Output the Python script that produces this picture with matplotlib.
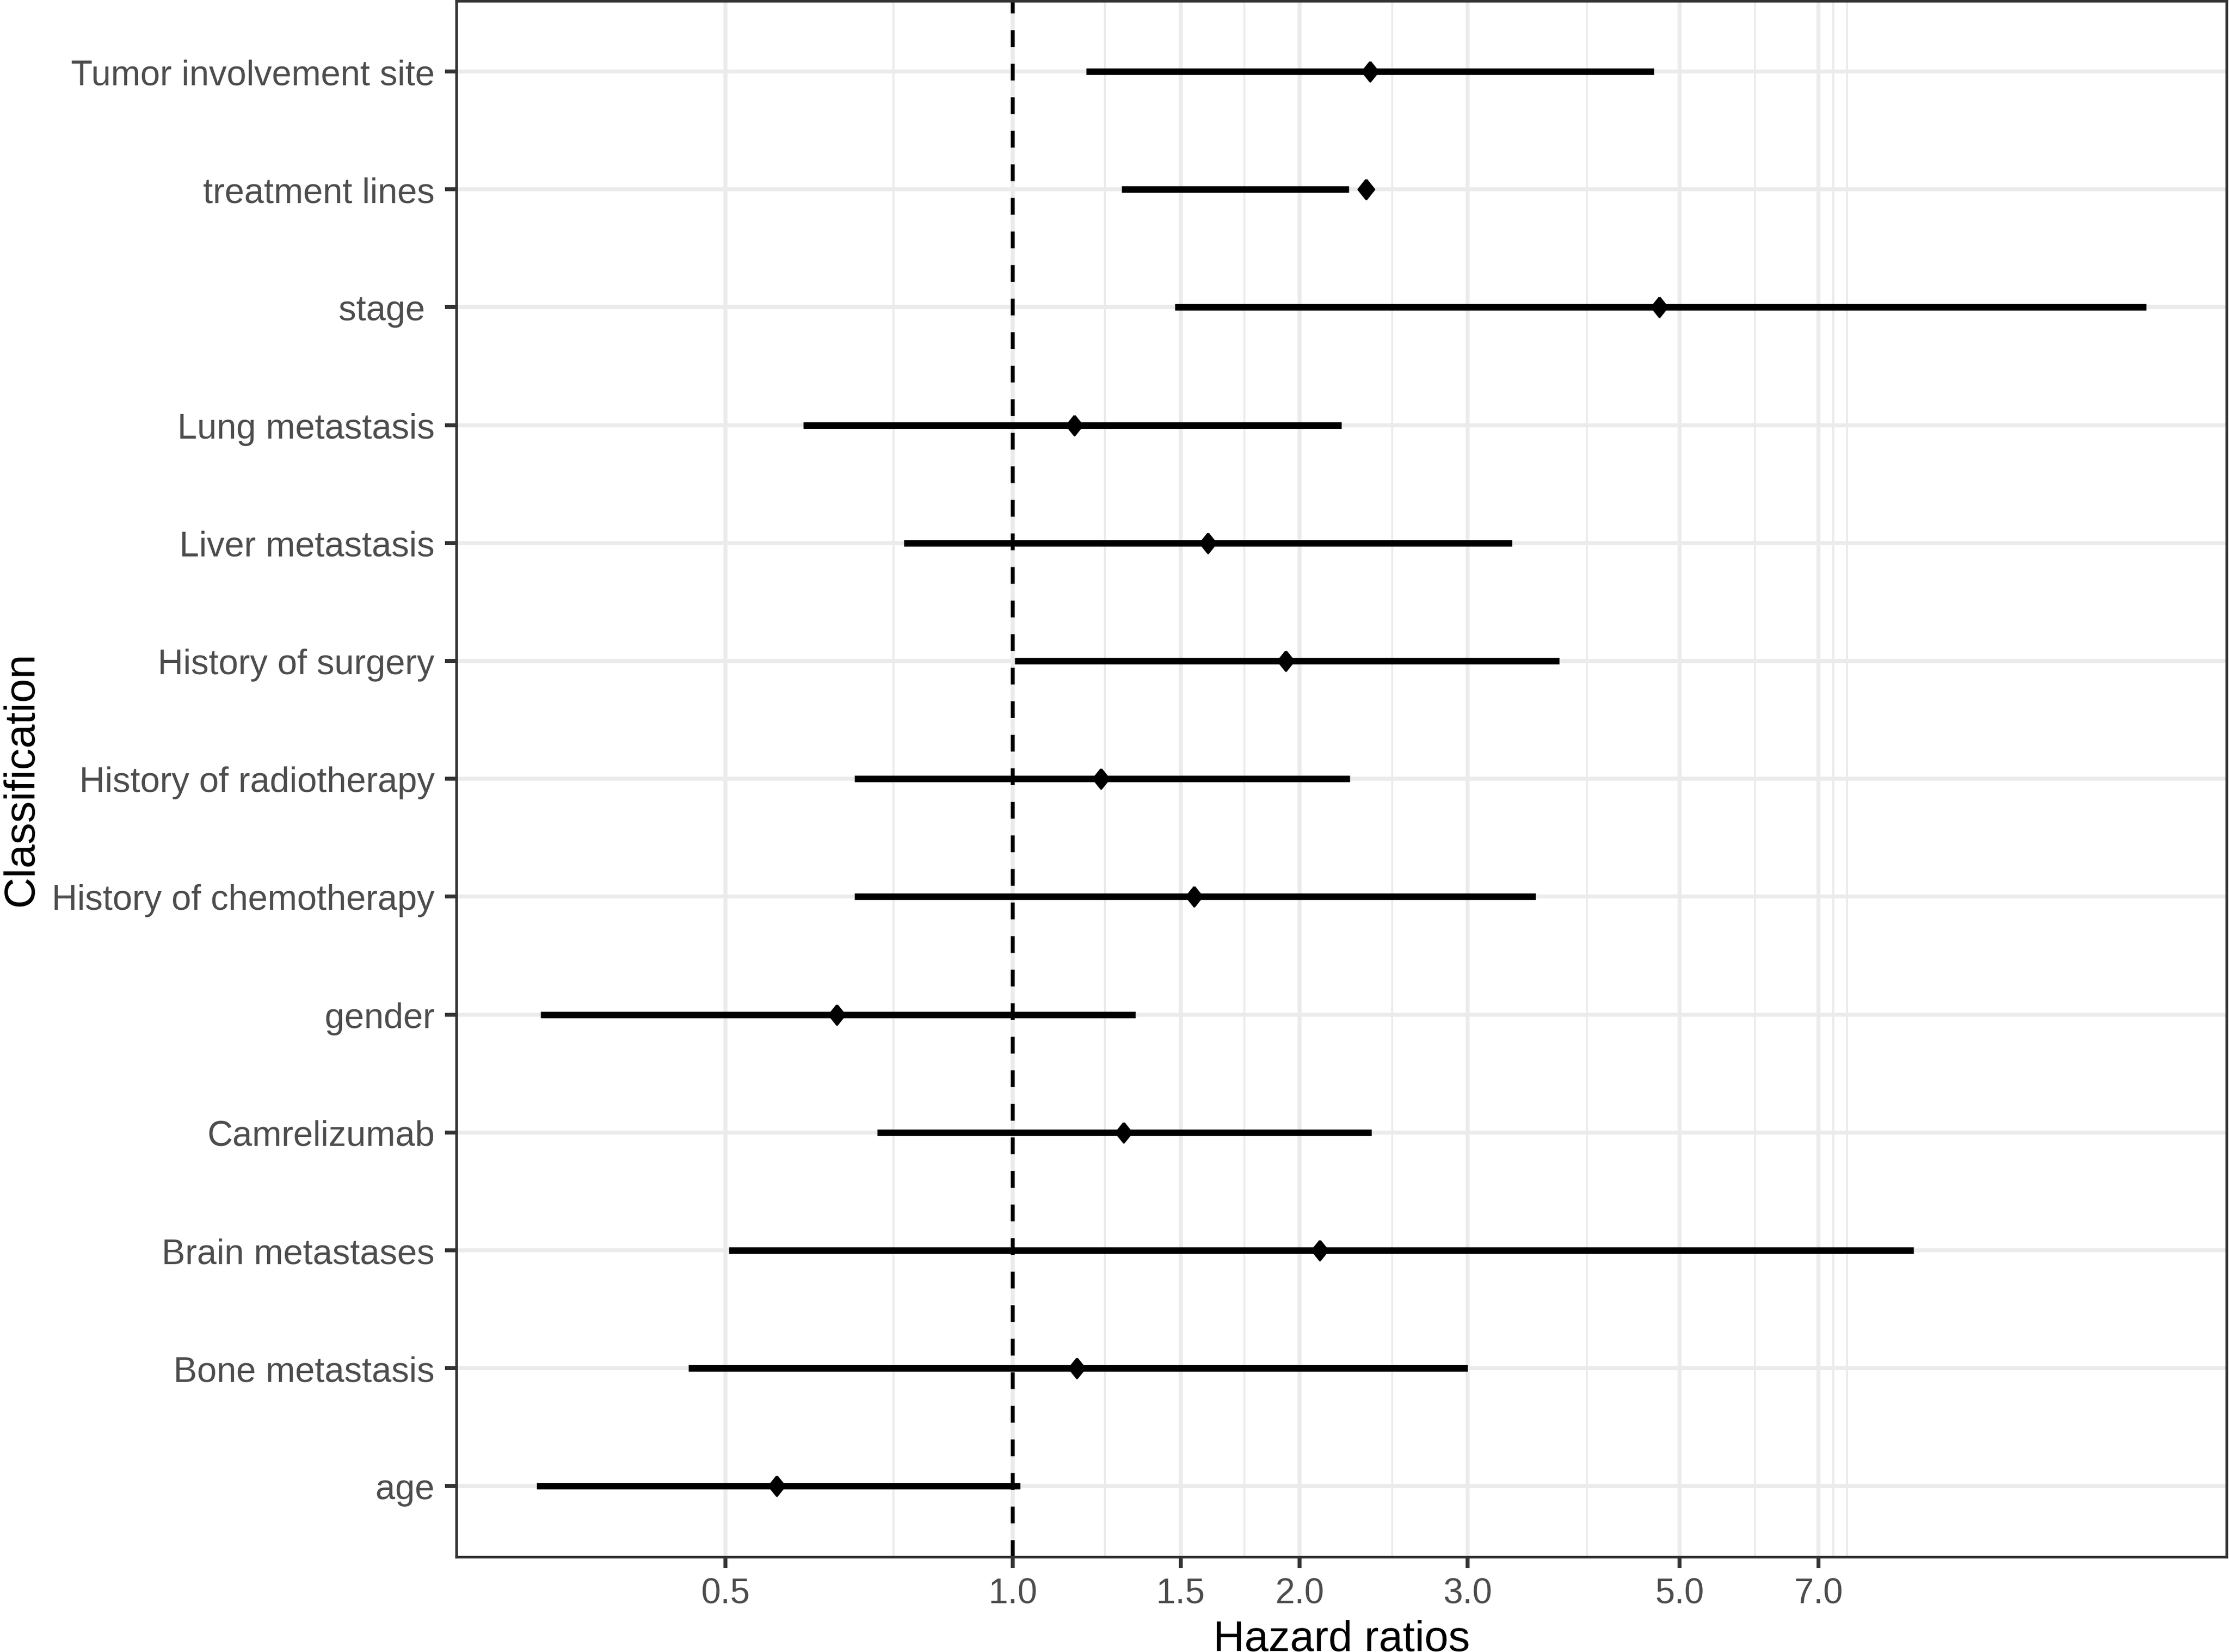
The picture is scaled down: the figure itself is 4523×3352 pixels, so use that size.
import numpy as np
import matplotlib.pyplot as plt
from matplotlib.path import Path
from matplotlib.ticker import NullFormatter

plt.rcParams['font.family'] = ['Liberation Sans', 'DejaVu Sans']

# Datos (de abajo hacia arriba, como se dibujan)
variables = ['age', 'Bone metastasis', 'Brain metastases', 'Camrelizumab', 'gender',
             'History of chemotherapy', 'History of radiotherapy', 'History of surgery',
             'Liver metastasis', 'Lung metastasis', 'stage ', 'treatment lines',
             'Tumor involvement site']
hr = [0.566, 1.168, 2.100, 1.307, 0.654, 1.550, 1.238, 1.934, 1.603, 1.161, 4.766, 2.346, 2.371]
lower = [0.317, 0.457, 0.504, 0.721, 0.320, 0.683, 0.683, 1.005, 0.769, 0.603, 1.479, 1.301, 1.194]
upper = [1.018, 2.998, 8.80, 2.377, 1.345, 3.534, 2.258, 3.741, 3.339, 2.211, 15.43, 2.251, 4.705]

x_breaks = [0.5, 1.0, 1.5, 2.0, 3.0, 5.0, 7.0]
x_minor = [0.75, 1.25, 1.75, 2.5, 4.0, 6.0, 7.25, 7.5]

W, H = 4523, 3353
fig = plt.figure(figsize=(W / 300, H / 300), dpi=300)
ax = fig.add_axes([926 / W, 1 - 3160 / H, (4518 - 926) / W, (3160 - 2.5) / H])

y = np.arange(len(variables))
diamond = Path([(0, 1), (0.8, 0), (0, -1), (-0.8, 0), (0, 1)])

ax.axvline(1, color='black', lw=1.9, ls=(0, (4.3, 4.3)), zorder=2.5)
ax.hlines(y, lower, upper, color='black', lw=3.2, zorder=3)
ax.plot(hr, y, ls='none', marker=diamond, ms=9.6, color='black', zorder=4)

# escala log con expansion del 5%
ax.set_xscale('log')
lo_log, hi_log = np.log10(min(lower)), np.log10(max(upper))
pad = 0.05 * (hi_log - lo_log)
ax.set_xlim(10 ** (lo_log - pad), 10 ** (hi_log + pad))
ax.set_ylim(-0.6, len(variables) - 1 + 0.6)

ax.set_xticks(x_breaks)
ax.set_xticklabels([f'{b:.1f}' for b in x_breaks])
ax.set_xticks(x_minor, minor=True)
ax.xaxis.set_minor_formatter(NullFormatter())
ax.set_yticks(y)
ax.set_yticklabels(variables)

ax.set_axisbelow(True)
ax.grid(which='major', color='#EBEBEB', lw=1.9)
ax.grid(which='minor', axis='x', color='#EBEBEB', lw=0.95)

for s in ax.spines.values():
    s.set_color('#333333')
    s.set_linewidth(1.3)
ax.tick_params(which='major', color='#333333', width=1.9, length=5.6,
               labelsize=17.2, labelcolor='#4D4D4D')
ax.tick_params(axis='y', pad=5)
ax.tick_params(axis='x', pad=4.1)
ax.tick_params(which='minor', length=0)

ax.set_xlabel('Hazard ratios', fontsize=21, color='black')
ax.xaxis.set_label_coords(0.5, -0.0402)
ax.set_ylabel('Classification', fontsize=21, color='black')
ax.yaxis.set_label_coords(-0.2344, 0.5)

fig.savefig('out.png', dpi=300)
